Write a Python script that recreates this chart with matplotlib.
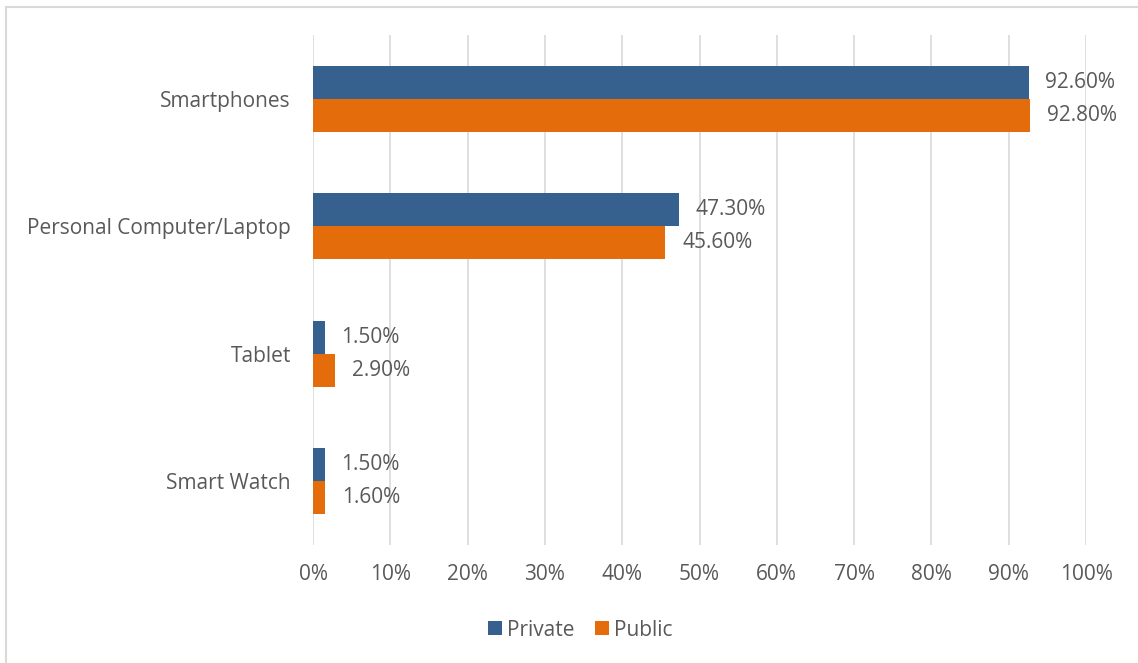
import matplotlib
matplotlib.use("Agg")
import matplotlib.pyplot as plt
import numpy as np

categories = ["Smartphones", "Personal Computer/Laptop", "Tablet", "Smart Watch"]
private = [92.6, 47.3, 1.5, 1.5]
public = [92.8, 45.6, 2.9, 1.6]
series_names = ["Private", "Public"]
xticks = list(range(0, 101, 10))

plt.rcParams['font.family'] = ['Open Sans', 'DejaVu Sans']
W, H = 1138, 663
fig = plt.figure(figsize=(W / 100, H / 100), dpi=100)
FS = 15
TC = '#595959'

# outer frame
fig.add_artist(plt.Rectangle((6 / W, -0.05), 1.2, 1 - 7 / H + 0.05, transform=fig.transFigure,
                             fill=False, edgecolor='#D9D9D9', linewidth=1.5))

ax = fig.add_axes([313 / W, 1 - 545 / H, (1086 - 313) / W, (545 - 35) / H])
y = np.arange(len(categories))
h = 0.259
c_priv = '#36618F'
c_pub = '#E46C0A'
ax.barh(y - h / 2, private, height=h, color=c_priv, label=series_names[0], zorder=3)
ax.barh(y + h / 2, public, height=h, color=c_pub, label=series_names[1], zorder=3)

for yi, v in zip(y - h / 2, private):
    ax.annotate(f"{v:.2f}%", (v, yi), xytext=(12, 0), textcoords='offset points',
                va='center', ha='left', fontsize=FS, color=TC)
for yi, v in zip(y + h / 2, public):
    ax.annotate(f"{v:.2f}%", (v, yi), xytext=(12, 0), textcoords='offset points',
                va='center', ha='left', fontsize=FS, color=TC)

ax.set_ylim(len(categories) - 0.5, -0.5)
ax.set_xlim(0, 100)
ax.set_yticks(y)
ax.set_yticklabels(categories, fontsize=FS, color=TC)
ax.set_xticks(xticks)
ax.set_xticklabels([f"{t}%" for t in xticks], fontsize=FS, color=TC)
ax.tick_params(axis='both', length=0)
ax.tick_params(axis='y', pad=16)
ax.tick_params(axis='x', pad=14)
ax.grid(axis='x', color='#D9D9D9', linewidth=1.2, zorder=0)
for s in ax.spines.values():
    s.set_visible(False)

leg = fig.legend(loc='center', bbox_to_anchor=(580 / W, 1 - 630 / H), ncol=2, frameon=False,
                 fontsize=FS, handlelength=0.67, handleheight=0.67, handletextpad=0.24,
                 columnspacing=1.0, labelcolor=TC)

fig.savefig("out.png", dpi=100, facecolor='white')
